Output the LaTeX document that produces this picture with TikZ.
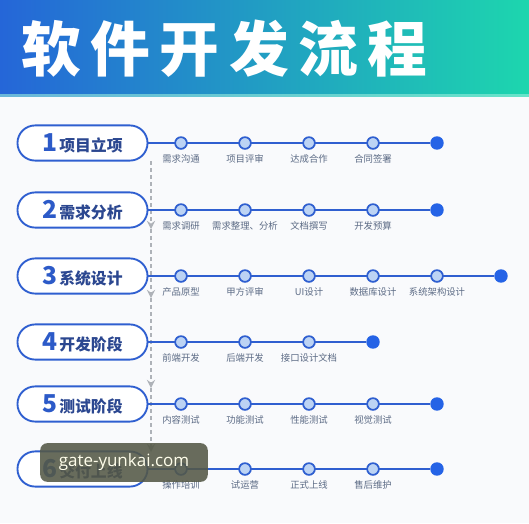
\documentclass[tikz,border=0pt]{standalone}
\usepackage{fontspec}
\setmainfont{Noto Sans CJK SC}
\newfontfamily\cjktitle[LetterSpace=16]{Noto Sans CJK SC}
\newfontfamily\wmfont{Open Sans}
\usetikzlibrary{arrows.meta,positioning}

\definecolor{hdleft}{HTML}{2566D8}
\definecolor{hdright}{HTML}{1DD6AE}
\definecolor{lineblue}{HTML}{2F5FD0}
\definecolor{dotfill}{HTML}{BCD3F4}
\definecolor{enddotblue}{HTML}{2563E6}
\definecolor{labelgray}{HTML}{5C6B85}
\definecolor{numblue}{HTML}{2C5AC8}
\definecolor{namenavy}{HTML}{2B4790}
\definecolor{guidegray}{HTML}{AEB2B8}
\definecolor{bgwhite}{HTML}{F9FAFC}
\definecolor{wmgray}{HTML}{545846}

\newcommand{\stagenum}[1]{{\fontsize{21}{21}\selectfont\bfseries\color{numblue}#1}}
\newcommand{\stagename}[1]{{\fontsize{13.5}{14}\selectfont\bfseries\color{namenavy}#1}}

\begin{document}
\begin{tikzpicture}[x=0.03cm, y=-0.03cm, >=Stealth,
    stagebox/.style={draw=lineblue, line width=1.6pt, fill=white, rounded corners=15pt,
        minimum width=111pt, minimum height=30pt, inner sep=0pt},
    flowline/.style={draw=lineblue, line width=2.4pt},
    stepdot/.style={circle, draw=lineblue, line width=1.5pt, fill=dotfill,
        minimum size=10pt, inner sep=0pt},
    enddot/.style={circle, fill=enddotblue, minimum size=11.5pt, inner sep=0pt},
    steplabel/.style={font=\fontsize{8}{8}\selectfont, text=labelgray, inner sep=0pt},
    guide/.style={draw=guidegray, line width=0.9pt, dashed},
    guidetip/.style={-{Stealth[length=7pt, width=7pt, inset=2.5pt]}},
    wmbox/.style={fill=wmgray, fill opacity=0.88, text opacity=1, text=white!92!yellow,
        rounded corners=6pt, minimum width=143pt, minimum height=33pt,
        font=\wmfont\fontsize{14.5}{15}\selectfont}]

%% 背景与标题
\fill[bgwhite] (0,0) rectangle (529,523);
\useasboundingbox (0,0) rectangle (529,523);
\shade[left color=hdleft, right color=hdright] (0,0) rectangle (529,96);
\fill[white!55!hdright, opacity=0.6] (0,94) rectangle (529,97);
\node[anchor=west, text=white, inner sep=0pt] (title) at (21,49)
    {\cjktitle\bfseries\fontsize{51}{51}\selectfont 软件开发流程};

%% 中间的虚线
\coordinate (g0) at (151,161);
\coordinate (g1) at (151,229);
\coordinate (g2) at (151,298);
\coordinate (g3) at (151,388);
\coordinate (g4) at (151,452);
\foreach \a/\b in {g0/g1, g1/g2, g2/g3, g3/g4}
{
    \draw[guide, guidetip] (\a) -- (\b);
}

%% 各个阶段
\foreach \yy/\num/\name/\items/\n in {
    143/1/项目立项/{需求沟通,项目评审,达成合作,合同签署}/4,
    210/2/需求分析/{需求调研,需求整理、分析,文档撰写,开发预算}/4,
    276/3/系统设计/{产品原型,甲方评审,UI设计,数据库设计,系统架构设计}/5,
    342/4/开发阶段/{前端开发,后端开发,接口设计文档}/3,
    404/5/测试阶段/{内容测试,功能测试,性能测试,视觉测试}/4,
    469/6/交付上线/{操作培训,试运营,正式上线,售后维护}/4}
{
    \node[stagebox] (s\num) at (82.5,\yy) {\stagenum{\num}\,\stagename{\name}};
    \node[enddot] (e\num) at ({181+64*\n},\yy) {};
    \draw[flowline] (s\num.east) -- (e\num);
    \foreach \lab [count=\k] in \items
    {
        \node[stepdot] (c\num-\k) at ({181+64*(\k-1)},\yy) {};
        \node[steplabel, below=4pt of c\num-\k] (l\num-\k) {\lab};
    }
}

%% 水印
\node[wmbox] (wm) at (124,462.5) {gate-yunkai.com};

\end{tikzpicture}
\end{document}
